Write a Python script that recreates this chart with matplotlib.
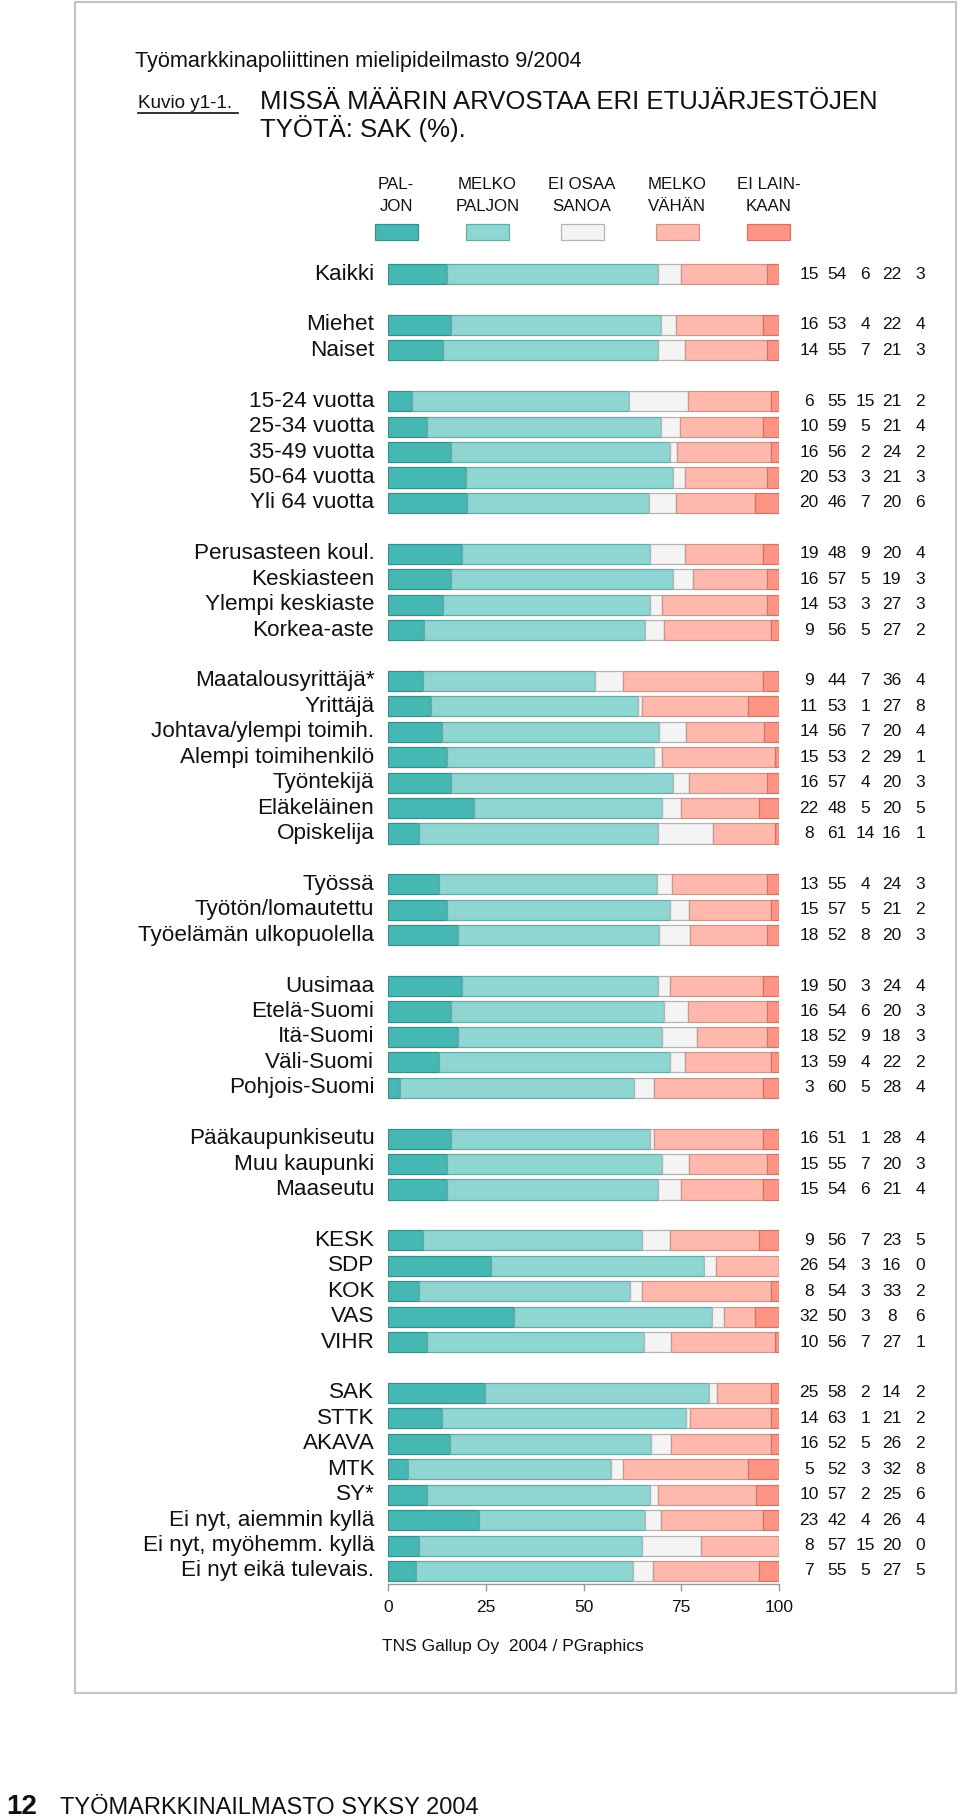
import numpy as np
import matplotlib
matplotlib.use("Agg")
import matplotlib.pyplot as plt
from matplotlib.patches import Rectangle
from matplotlib.lines import Line2D

plt.rcParams['font.family'] = ['Liberation Sans', 'DejaVu Sans']

# ---------------- data ----------------
categories = [
    "Kaikki",
    "Miehet", "Naiset",
    "15-24 vuotta", "25-34 vuotta", "35-49 vuotta", "50-64 vuotta", "Yli 64 vuotta",
    "Perusasteen koul.", "Keskiasteen", "Ylempi keskiaste", "Korkea-aste",
    "Maatalousyrittäjä*", "Yrittäjä", "Johtava/ylempi toimih.", "Alempi toimihenkilö",
    "Työntekijä", "Eläkeläinen", "Opiskelija",
    "Työssä", "Työtön/lomautettu", "Työelämän ulkopuolella",
    "Uusimaa", "Etelä-Suomi", "Itä-Suomi", "Väli-Suomi", "Pohjois-Suomi",
    "Pääkaupunkiseutu", "Muu kaupunki", "Maaseutu",
    "KESK", "SDP", "KOK", "VAS", "VIHR",
    "SAK", "STTK", "AKAVA", "MTK", "SY*",
    "Ei nyt, aiemmin kyllä", "Ei nyt, myöhemm. kyllä", "Ei nyt eikä tulevais.",
]
group_sizes = [1, 2, 5, 4, 7, 3, 5, 3, 5, 8]

paljon       = [15, 16, 14, 6, 10, 16, 20, 20, 19, 16, 14, 9, 9, 11, 14, 15, 16, 22, 8,
                13, 15, 18, 19, 16, 18, 13, 3, 16, 15, 15, 9, 26, 8, 32, 10,
                25, 14, 16, 5, 10, 23, 8, 7]
melko_paljon = [54, 53, 55, 55, 59, 56, 53, 46, 48, 57, 53, 56, 44, 53, 56, 53, 57, 48, 61,
                55, 57, 52, 50, 54, 52, 59, 60, 51, 55, 54, 56, 54, 54, 50, 56,
                58, 63, 52, 52, 57, 42, 57, 55]
ei_osaa      = [6, 4, 7, 15, 5, 2, 3, 7, 9, 5, 3, 5, 7, 1, 7, 2, 4, 5, 14,
                4, 5, 8, 3, 6, 9, 4, 5, 1, 7, 6, 7, 3, 3, 3, 7,
                2, 1, 5, 3, 2, 4, 15, 5]
melko_vahan  = [22, 22, 21, 21, 21, 24, 21, 20, 20, 19, 27, 27, 36, 27, 20, 29, 20, 20, 16,
                24, 21, 20, 24, 20, 18, 22, 28, 28, 20, 21, 23, 16, 33, 8, 27,
                14, 21, 26, 32, 25, 26, 20, 27]
ei_lainkaan  = [3, 4, 3, 2, 4, 2, 3, 6, 4, 3, 3, 2, 4, 8, 4, 1, 3, 5, 1,
                3, 2, 3, 4, 3, 3, 2, 4, 4, 3, 4, 5, 0, 2, 6, 1,
                2, 2, 2, 8, 6, 4, 0, 5]

series_names = ["PAL-\nJON", "MELKO\nPALJON", "EI OSAA\nSANOA", "MELKO\nVÄHÄN", "EI LAIN-\nKAAN"]
tick_values = [0, 25, 50, 75, 100]

# ---------------- styles ----------------
face_colors = ["#46b8b3", "#8fd6d2", "#f4f4f4", "#ffb8ab", "#ff9383"]
edge_colors = ["#3a8e8a", "#6aa9a6", "#b4b4b4", "#c8978d", "#c9786b"]

W, H = 960, 1817
fig = plt.figure(figsize=(W / 100, H / 100), dpi=100)


def fx(x):
    return x / W


def fy(y):
    return 1 - y / H


# frame
fig.add_artist(Rectangle((fx(75), fy(1693)), fx(956) - fx(75), fy(2) - fy(1693),
                         transform=fig.transFigure, fill=False,
                         edgecolor="#c4c4c4", lw=1.6))

# positions
positions = []
pos = 0
for g in group_sizes:
    for _ in range(g):
        positions.append(pos)
        pos += 1
    pos += 1
n_slots = positions[-1] + 1

ax_left, ax_right = 388, 779
ax_top, ax_bottom = 261.3, 1583.7
ax = fig.add_axes([fx(ax_left), fy(ax_bottom), fx(ax_right) - fx(ax_left),
                   (ax_bottom - ax_top) / H])

data = np.array([paljon, melko_paljon, ei_osaa, melko_vahan, ei_lainkaan], dtype=float)
totals = data.sum(axis=0)
shares = data / totals * 100

y = np.array(positions)
left = np.zeros(len(categories))
for i in range(5):
    ax.barh(y, shares[i], left=left, height=0.79, color=face_colors[i],
            edgecolor=edge_colors[i], linewidth=0.9, zorder=2)
    left += shares[i]

ax.set_xlim(0, 100)
ax.set_ylim(n_slots - 0.5, -0.5)
for s in ["top", "right", "left"]:
    ax.spines[s].set_visible(False)
ax.spines["bottom"].set_color("#999999")
ax.spines["bottom"].set_linewidth(1.0)
ax.set_yticks([])
ax.set_xticks(tick_values)
ax.set_xticklabels([str(t) for t in tick_values])
ax.tick_params(axis="x", length=5, width=1.0, color="#999999", labelsize=12.5,
               pad=6.5, labelcolor="#111111")

# category labels
for lab, yy in zip(categories, positions):
    ax.text(-3.5, yy, lab, ha="right", va="center", fontsize=16.2, color="#111111",
            clip_on=False)

# value columns
col_x = [107.7, 114.8, 122.0, 128.8, 136.1]
for j, yy in enumerate(positions):
    for i in range(5):
        ax.text(col_x[i], yy, str(int(data[i, j])), ha="center", va="center",
                fontsize=12.5, color="#111111", clip_on=False)

# titles
fig.text(fx(135), fy(66.5), "Työmarkkinapoliittinen mielipideilmasto 9/2004",
         fontsize=15.6, va="baseline", ha="left", color="#111111")
fig.text(fx(137.5), fy(108), "Kuvio y1-1.", fontsize=13.6, va="baseline",
         ha="left", color="#111111")
fig.add_artist(Line2D([fx(137.5), fx(238)], [fy(112.7), fy(112.7)],
                      transform=fig.transFigure, color="#111111", lw=1.2))
fig.text(fx(260), fy(109), "MISSÄ MÄÄRIN ARVOSTAA ERI ETUJÄRJESTÖJEN",
         fontsize=18.5, va="baseline", ha="left", color="#111111")
fig.text(fx(260), fy(137.3), "TYÖTÄ: SAK (%).",
         fontsize=18.5, va="baseline", ha="left", color="#111111")

# legend
leg_x = [396, 487.5, 582, 677, 768.5]
for i in range(5):
    first, second = series_names[i].split("\n")
    fig.text(fx(leg_x[i]), fy(189), first, ha="center", va="baseline",
             fontsize=12.2, color="#111111")
    fig.text(fx(leg_x[i]), fy(211), second, ha="center", va="baseline",
             fontsize=12.2, color="#111111")
    fig.add_artist(Rectangle((fx(leg_x[i] - 21.5), fy(240)), 43 / W, 16 / H,
                             transform=fig.transFigure, facecolor=face_colors[i],
                             edgecolor=edge_colors[i], lw=0.9))

# footer
fig.text(fx(382.5), fy(1651), "TNS Gallup Oy  2004 / PGraphics", fontsize=12.6,
         va="baseline", ha="left", color="#111111")

# page footer
fig.text(fx(6), fy(1814), "12", fontsize=20, fontweight="bold", va="baseline",
         ha="left", color="#111111")
fig.text(fx(60), fy(1814), "TYÖMARKKINAILMASTO SYKSY 2004", fontsize=17,
         va="baseline", ha="left", color="#111111")

fig.savefig("out.png", dpi=100)
